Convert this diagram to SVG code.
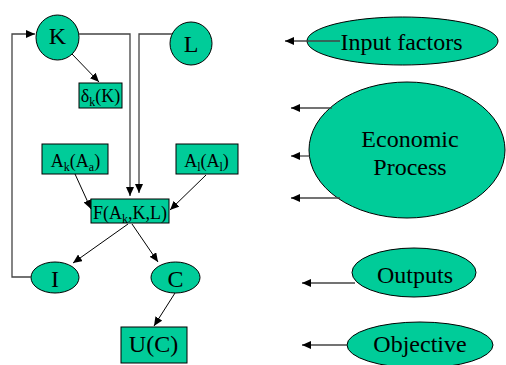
<svg xmlns="http://www.w3.org/2000/svg" width="506" height="365" viewBox="0 0 506 365">
<style>
.n{fill:#00CC99;stroke:#000;stroke-width:1}
.t{font-family:'Liberation Serif','Times New Roman',Times,serif;fill:#000;text-anchor:middle}
.big{font-size:24px}
.sm{font-size:18px}
.c{fill:none;stroke:#000;stroke-width:1}
.g{fill:none;stroke:#444;stroke-width:1.3}
</style>
<defs>
<marker id="a" markerUnits="userSpaceOnUse" markerWidth="10" markerHeight="8" refX="9" refY="4" orient="auto">
<path d="M0,0 L9,4 L0,8 Z" fill="#000"/>
</marker>
</defs>
<rect width="506" height="365" fill="#fff"/>
<g id="K"><ellipse class="n" cx="57.5" cy="37.5" rx="21.5" ry="22.5"/><text class="t big" x="57.5" y="44">K</text></g>
<g id="L"><ellipse class="n" cx="191" cy="43.5" rx="21" ry="21.5"/><text class="t big" x="191" y="52">L</text></g>
<g id="delta"><rect class="n" x="79" y="83" width="43" height="25"/><text class="t sm" x="100.5" y="102">δ<tspan font-size="12" dy="4">k</tspan><tspan dy="-4">(K)</tspan></text></g>
<g id="Ak"><rect class="n" x="42" y="144" width="66" height="30"/><text class="t sm" x="75.5" y="167">A<tspan font-size="12" dy="4">k</tspan><tspan dy="-4">(A</tspan><tspan font-size="12" dy="4">a</tspan><tspan dy="-4">)</tspan></text></g>
<g id="Al"><rect class="n" x="176" y="144" width="62" height="30"/><text class="t sm" x="206.5" y="167">A<tspan font-size="12" dy="4">l</tspan><tspan dy="-4">(A</tspan><tspan font-size="12" dy="4">l</tspan><tspan dy="-4">)</tspan></text></g>
<g id="F"><rect class="n" x="91" y="199" width="78" height="24"/><text class="t sm" x="130" y="219">F(A<tspan font-size="12" dy="4">k</tspan><tspan dy="-4">,K,L)</tspan></text></g>
<g id="I"><ellipse class="n" cx="55" cy="277.5" rx="24" ry="15.5"/><text class="t big" x="55" y="286.5">I</text></g>
<g id="C"><ellipse class="n" cx="175.5" cy="277.5" rx="24.5" ry="15.5"/><text class="t big" x="175.5" y="286.5">C</text></g>
<g id="U"><rect class="n" x="121" y="327" width="66" height="36"/><text class="t big" x="153.5" y="352">U(C)</text></g>
<g id="inputs"><ellipse class="n" cx="402.5" cy="41" rx="95.5" ry="24"/><text class="t big" x="401.5" y="50">Input factors</text></g>
<g id="process"><ellipse class="n" cx="407" cy="150" rx="98" ry="68"/><text class="t big" x="410" y="147">Economic</text><text class="t big" x="410" y="175">Process</text></g>
<g id="outputs"><ellipse class="n" cx="414" cy="272.5" rx="62" ry="24.5"/><text class="t big" x="415" y="283">Outputs</text></g>
<g id="objective"><ellipse class="n" cx="420" cy="345" rx="73" ry="23"/><text class="t big" x="420" y="352">Objective</text></g>
<g id="connectors">
<polyline class="g" points="31,277 12,277 12,34 35,34" marker-end="url(#a)"/>
<polyline class="g" points="79,34 130,34 130,196" marker-end="url(#a)"/>
<polyline class="g" points="172,34 139,34 139,193" marker-end="url(#a)"/>
<line class="c" x1="72" y1="54" x2="99" y2="82" marker-end="url(#a)"/>
<line class="c" x1="75" y1="174" x2="91" y2="209" marker-end="url(#a)"/>
<line class="c" x1="206" y1="175" x2="170" y2="210" marker-end="url(#a)"/>
<line class="c" x1="128" y1="224" x2="73" y2="263" marker-end="url(#a)"/>
<line class="c" x1="132" y1="224" x2="158" y2="262" marker-end="url(#a)"/>
<line class="c" x1="175" y1="293" x2="154" y2="326" marker-end="url(#a)"/>
<line class="g" x1="340" y1="41" x2="285" y2="41" marker-end="url(#a)"/>
<line class="g" x1="332" y1="108" x2="291" y2="108" marker-end="url(#a)"/>
<line class="g" x1="309" y1="156" x2="291" y2="156" marker-end="url(#a)"/>
<line class="g" x1="340" y1="198" x2="291" y2="198" marker-end="url(#a)"/>
<line class="g" x1="355" y1="283" x2="302" y2="283" marker-end="url(#a)"/>
<line class="g" x1="347" y1="345" x2="302" y2="345" marker-end="url(#a)"/>
</g>
</svg>
